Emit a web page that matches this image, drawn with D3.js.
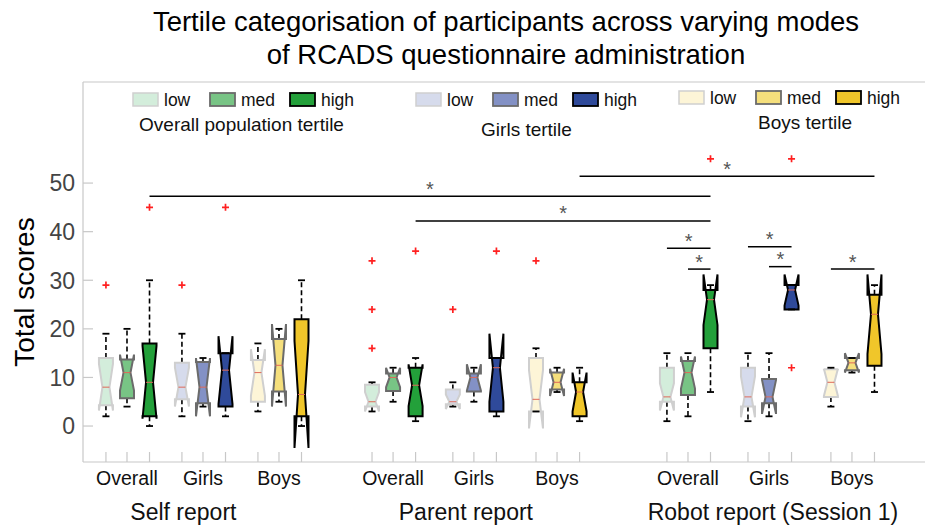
<!DOCTYPE html>
<html>
<head>
<meta charset="utf-8">
<script src="https://cdn.jsdelivr.net/npm/d3@7"></script>
<style>
  html, body { margin: 0; padding: 0; background: #fff; }
  svg { display: block; font-family: "Liberation Sans", Arial, Helvetica, sans-serif; }
</style>
</head>
<body>
<svg id="chart" width="925" height="527"></svg>
<script>
// ---------------- DATA ----------------
const titleLines = ["Tertile categorisation of participants across varying modes", "of RCADS questionnaire administration"];
const reports = ["Self report", "Parent report", "Robot report (Session 1)"];
const categories = ["Overall", "Girls", "Boys"];
const tertiles = ["low", "med", "high"];
const legendTitles = ["Overall population tertile", "Girls tertile", "Boys tertile"];
const yTicks = [0, 10, 20, 30, 40, 50];

// box statistics, order: report -> category -> tertile (27 boxes)
const lowerWhisker = [2, 4, 0,   2, 4, 2,    3, 5, 0,
                      3, 5, 1,   4, 5, 2,    3, 7, 1,
                      1, 2, 7,   1, 2, 24,   4, 11, 7];
const q1Values     = [4.3, 5.7, 2,   5.5, 4.7, 4,   5, 7.1, 2,
                      4, 7.2, 2,     4.5, 7.1, 3,   3, 7.5, 2,
                      5, 6.4, 16,    4, 4.7, 24,    6, 11.5, 12.4];
const medianValues = [8, 11, 9,      8, 8, 11.5,    11, 12.5, 6.5,
                      5, 10, 8.4,    5, 10, 12,     5.5, 9, 7,
                      6, 11, 26,     6, 6, 28,      9, 13, 23];
const q3Values     = [14, 13.7, 17,  13, 13.2, 15,  13.6, 17.9, 22,
                      8.5, 10.8, 12, 7.5, 10.8, 14, 14, 11, 9,
                      12, 13.4, 28,  12, 9.7, 29,   11.7, 14, 27];
const upperWhisker = [19, 20, 30,    19, 14, 15,    17, 20, 30,
                      9, 12, 14,     9, 12, 14,     16, 12, 12,
                      15, 15, 29,    15, 15, 29,    12, 14, 29];
const notchHalf    = [4.8, 3.7, 7.5, 4, 6, 7,       4.8, 8.5, 11,
                      2, 2, 4.3,     1.5, 2.7, 7,   6, 2.8, 4,
                      2.8, 3.3, 5.2, 4.2, 3.5, 3.2, 2.8, 2, 8.2];
const outlierValues = [[29], [], [45],  [29], [], [45],  [], [], [],
                       [34, 24, 16], [], [36],  [24], [], [36],  [34], [], [],
                       [], [], [55],  [], [], [55, 12],  [], [], []];

// significance bars: [from box index, to box index, height (score)]
const sigFrom   = [2, 11, 17, 18, 19, 21, 22, 24];
const sigTo     = [20, 20, 26, 20, 20, 23, 23, 26];
const sigHeight = [47.3, 42.2, 51.4, 36.6, 32.3, 36.9, 32.8, 32.3];

// ---------------- STYLE / LAYOUT ----------------
const fills = [["#d3eddb", "#78c485", "#23a03a"],
               ["#d6dbec", "#8391c5", "#2f4a9a"],
               ["#fdf5d7", "#f5df7c", "#f0c62a"]];
const strokes = ["#cfcfcf", "#6b6b6b", "#000000"];
const catCenters = [[2.09, 5.70, 9.31], [14.73, 18.57, 22.52], [28.74, 32.59, 36.53]];
const tertileOffset = [-1.0, 0, 1.07];
const reportLabelX = [4.77, 18.19, 32.78];

const svg = d3.select("#chart");
const W = 925, H = 527;
const L = 83, T = 82, B = 462;

const x = d3.scaleLinear().domain([0, 40]).range([L, W]);
const y = d3.scaleLinear().domain([-7.4, 70.8]).range([B, T]);

// title
svg.append("g").selectAll("text").data(titleLines).join("text")
  .attr("x", 506).attr("y", (d, i) => 31 + i * 33)
  .attr("text-anchor", "middle").attr("font-size", 27.5).attr("fill", "#000")
  .text(d => d);

// frame
const axisCol = "#c8c8c8";
svg.append("line").attr("x1", L).attr("x2", W).attr("y1", T).attr("y2", T).attr("stroke", axisCol).attr("stroke-width", 1.2);
svg.append("line").attr("x1", L).attr("x2", W).attr("y1", B).attr("y2", B).attr("stroke", axisCol).attr("stroke-width", 1.2);
svg.append("line").attr("x1", L).attr("x2", L).attr("y1", T).attr("y2", B).attr("stroke", axisCol).attr("stroke-width", 1.2);

// y axis ticks + labels
const yAxisG = svg.append("g");
yAxisG.selectAll("line").data(yTicks).join("line")
  .attr("x1", L).attr("x2", L + 10).attr("y1", d => y(d)).attr("y2", d => y(d))
  .attr("stroke", axisCol).attr("stroke-width", 1.2);
yAxisG.selectAll("text").data(yTicks).join("text")
  .attr("x", 75).attr("y", d => y(d)).attr("dy", "0.36em")
  .attr("text-anchor", "end").attr("font-size", 23).attr("fill", "#444")
  .text(d => d);

svg.append("text").attr("transform", "translate(34,292) rotate(-90)")
  .attr("text-anchor", "middle").attr("font-size", 28).attr("fill", "#000")
  .text("Total scores");

// boxes
const boxes = [];
reports.forEach((r, ri) => categories.forEach((c, ci) => tertiles.forEach((t, ti) => {
  const k = ri * 9 + ci * 3 + ti;
  boxes.push({ k, ri, ci, ti, pos: catCenters[ri][ci] + tertileOffset[ti],
    lw: lowerWhisker[k], q1: q1Values[k], med: medianValues[k], q3: q3Values[k],
    uw: upperWhisker[k], n: notchHalf[k], out: outlierValues[k] });
})));

// x ticks
svg.append("g").selectAll("line").data(boxes).join("line")
  .attr("x1", d => x(d.pos)).attr("x2", d => x(d.pos)).attr("y1", B).attr("y2", B - 10)
  .attr("stroke", axisCol).attr("stroke-width", 1.2);

// category labels
const catLabels = [];
reports.forEach((r, ri) => categories.forEach((c, ci) => catLabels.push({ text: c, pos: catCenters[ri][ci] })));
svg.append("g").selectAll("text").data(catLabels).join("text")
  .attr("x", d => x(d.pos)).attr("y", 485).attr("text-anchor", "middle")
  .attr("font-size", 19.5).attr("fill", "#111").text(d => d.text);
svg.append("g").selectAll("text").data(reports).join("text")
  .attr("x", (d, i) => x(reportLabelX[i])).attr("y", 520).attr("text-anchor", "middle")
  .attr("font-size", 23).attr("fill", "#111").text(d => d);

const hw = 7, qw = 3.5;
const gBoxes = svg.append("g");
boxes.forEach(b => {
  const g = gBoxes.append("g");
  const cx = x(b.pos);
  const left = cx - hw, right = cx + hw;
  const nlo = b.med - b.n, nhi = b.med + b.n;
  // whiskers
  g.append("line").attr("x1", cx).attr("x2", cx).attr("y1", y(b.q3)).attr("y2", y(b.uw))
    .attr("stroke", "#000").attr("stroke-width", 1.6).attr("stroke-dasharray", "5,3");
  g.append("line").attr("x1", cx).attr("x2", cx).attr("y1", y(b.q1)).attr("y2", y(b.lw))
    .attr("stroke", "#000").attr("stroke-width", 1.6).attr("stroke-dasharray", "5,3");
  // fill polygon clamped to [q1,q3]
  const off = v => {
    if (v <= nlo || v >= nhi) return 0;
    if (v <= b.med) return qw * (v - nlo) / (b.med - nlo);
    return qw * (nhi - v) / (nhi - b.med);
  };
  const levels = Array.from(new Set([b.q1, nlo, b.med, nhi, b.q3]))
    .filter(v => v >= b.q1 && v <= b.q3).sort((a, c) => a - c);
  const pts = levels.map(v => [left + off(v), y(v)])
    .concat(levels.slice().reverse().map(v => [right - off(v), y(v)]));
  g.append("path").attr("d", d3.line()(pts) + "Z")
    .attr("fill", fills[b.ci][b.ti]).attr("stroke", "none");
  // outline (MATLAB notch path)
  const outline = [[left, y(b.q1)], [left, y(nlo)], [cx - qw, y(b.med)], [left, y(nhi)], [left, y(b.q3)],
    [right, y(b.q3)], [right, y(nhi)], [cx + qw, y(b.med)], [right, y(nlo)], [right, y(b.q1)]];
  g.append("path").attr("d", d3.line()(outline) + "Z")
    .attr("fill", "none").attr("stroke", strokes[b.ti]).attr("stroke-width", 2)
    .attr("stroke-linejoin", "miter");
  // median
  g.append("line").attr("x1", cx - qw).attr("x2", cx + qw).attr("y1", y(b.med)).attr("y2", y(b.med))
    .attr("stroke", "#e06a5a").attr("stroke-width", 1);
  // caps
  [b.uw, b.lw].forEach(v => g.append("line").attr("x1", cx - qw).attr("x2", cx + qw)
    .attr("y1", y(v)).attr("y2", y(v)).attr("stroke", "#000").attr("stroke-width", 1.8));
  // outliers
  b.out.forEach(v => {
    const oy = y(v);
    g.append("path").attr("d", `M${cx - 3.5},${oy}H${cx + 3.5}M${cx},${oy - 3.5}V${oy + 3.5}`)
      .attr("stroke", "#ff2020").attr("stroke-width", 1.7);
  });
});

// significance bars
const gSig = svg.append("g");
sigFrom.forEach((f, i) => {
  const x1 = x(boxes[f].pos), x2 = x(boxes[sigTo[i]].pos), yy = y(sigHeight[i]);
  gSig.append("line").attr("x1", x1).attr("x2", x2).attr("y1", yy).attr("y2", yy)
    .attr("stroke", "#000").attr("stroke-width", 1.5);
  gSig.append("text").attr("x", (x1 + x2) / 2).attr("y", yy - 0.5).attr("text-anchor", "middle")
    .attr("font-size", 20).attr("fill", "#555").text("*");
});

// legends
const legendX = [133, 416, 679];
const legendSwY = [93, 93, 91];
const legendTitleX = [241.5, 526.5, 805];
const legendTitleY = [131, 136, 129];
const itemDx = [0, 77, 157];
const gLeg = svg.append("g");
categories.forEach((c, ci) => {
  tertiles.forEach((t, ti) => {
    const sx = legendX[ci] + itemDx[ti];
    gLeg.append("rect").attr("x", sx).attr("y", legendSwY[ci]).attr("width", 25).attr("height", 13)
      .attr("fill", fills[ci][ti]).attr("stroke", strokes[ti]).attr("stroke-width", ti === 0 ? 1.5 : 1.8);
    gLeg.append("text").attr("x", sx + 31).attr("y", legendSwY[ci] + 13)
      .attr("font-size", 17.5).attr("fill", "#111").text(t);
  });
  gLeg.append("text").attr("x", legendTitleX[ci]).attr("y", legendTitleY[ci]).attr("text-anchor", "middle")
    .attr("font-size", 19).attr("fill", "#111").text(legendTitles[ci]);
});
</script>
</body>
</html>
